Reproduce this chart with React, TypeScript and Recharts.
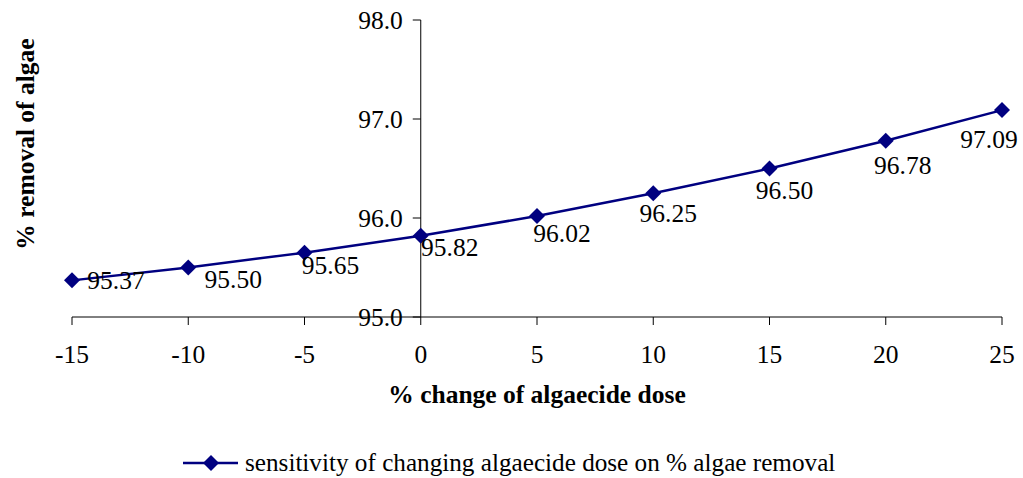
import React from 'react';
import {
  LineChart, Line, XAxis, YAxis, ReferenceLine, ReferenceDot, LabelList
} from 'recharts';

const DOSE_CHANGE = [-15, -10, -5, 0, 5, 10, 15, 20, 25];
const ALGAE_REMOVAL = [95.37, 95.5, 95.65, 95.82, 96.02, 96.25, 96.5, 96.78, 97.09];
const X_TICKS = [-15, -10, -5, 0, 5, 10, 15, 20, 25];
const Y_TICKS = [95, 96, 97, 98];

const SERIES_NAME = 'sensitivity of changing algaecide dose on % algae removal';

// label nudges (dx, dy) from each marker, as placed in the original
const LABEL_NUDGE = [
  [44, 0], [45, 12], [26, 12], [29, 11], [25, 17], [15, 20], [15, 22], [17, 24], [-13, 29],
];

const FONT = 'Liberation Serif, DejaVu Serif, serif';
const FS = 25.5;
const NAVY = '#000080';

const data = DOSE_CHANGE.map((d, i) => ({ dose: d, removal: ALGAE_REMOVAL[i] }));

const Diamond = (props: any) => {
  const { cx, cy } = props;
  if (cx == null || cy == null) return null;
  return <path d={`M${cx},${cy - 8} L${cx + 8},${cy} L${cx},${cy + 8} L${cx - 8},${cy} Z`} fill={NAVY} />;
};

const YTick = (props: any) => {
  const { cx, cy, label } = props;
  return (
    <g>
      <line x1={cx - 8} y1={cy} x2={cx} y2={cy} stroke="#000" strokeWidth={1} />
      <text x={cx - 18} y={cy} dy="0.35em" textAnchor="end" fontSize={FS} style={{ fontFamily: FONT }} fill="#000">
        {label}
      </text>
    </g>
  );
};

const PointLabel = (props: any) => {
  const { x, y, value, index } = props;
  const [dx, dy] = LABEL_NUDGE[index] || [20, 15];
  return (
    <text x={x + dx} y={y + dy} dy="0.35em" textAnchor="middle" fontSize={FS} style={{ fontFamily: FONT }} fill="#000">
      {Number(value).toFixed(2)}
    </text>
  );
};

export default function App() {
  return (
    <div style={{ position: 'absolute', left: 0, top: 0, width: 1023, height: 478, background: '#fff', fontFamily: FONT }}>
      <LineChart width={1023} height={478} data={data} margin={{ top: 20, right: 21, left: 0, bottom: 71 }} style={{ fontFamily: FONT }}>
        <XAxis
          dataKey="dose"
          type="number"
          domain={[-15, 25]}
          ticks={X_TICKS}
          interval={0}
          height={90}
          tickSize={8}
          tickMargin={20}
          axisLine={{ stroke: '#000', strokeWidth: 1 }}
          tickLine={{ stroke: '#000', strokeWidth: 1 }}
          tick={{ fontSize: FS, fill: '#000', style: { fontFamily: FONT } }}
          label={{
            value: '% change of algaecide dose',
            position: 'insideBottom',
            offset: 4,
            style: { fontSize: FS, fontWeight: 'bold', fontFamily: FONT, fill: '#000' },
          }}
        />
        <YAxis
          type="number"
          domain={[95, 98]}
          ticks={Y_TICKS}
          width={72}
          tick={false}
          axisLine={false}
          tickLine={false}
          label={({ viewBox }: any) => {
            const x = viewBox.x + 25;
            const y = viewBox.y + 124;
            return (
              <text
                x={x}
                y={y}
                transform={`rotate(-90, ${x}, ${y})`}
                textAnchor="middle"
                dy="0.35em"
                fontSize={FS}
                fontWeight="bold"
                style={{ fontFamily: FONT }}
                fill="#000"
              >
                % removal of algae
              </text>
            );
          }}
        />
        <ReferenceLine x={0} stroke="#000" strokeWidth={1} />
        {Y_TICKS.map((t) => (
          <ReferenceDot
            key={t}
            x={0}
            y={t}
            r={0}
            ifOverflow="visible"
            shape={(p: any) => <YTick {...p} label={t.toFixed(1)} />}
          />
        ))}
        <Line
          type="linear"
          dataKey="removal"
          name={SERIES_NAME}
          stroke={NAVY}
          strokeWidth={2.5}
          dot={<Diamond />}
          activeDot={false}
          isAnimationActive={false}
        >
          <LabelList dataKey="removal" content={<PointLabel />} />
        </Line>
      </LineChart>
      <div
        style={{
          position: 'absolute',
          left: 183,
          top: 448,
          height: 30,
          display: 'flex',
          alignItems: 'center',
          fontSize: 25.2,
          color: '#000',
          whiteSpace: 'nowrap',
        }}
      >
        <svg width={56} height={20} style={{ marginRight: 6 }}>
          <line x1={0} y1={10} x2={55} y2={10} stroke={NAVY} strokeWidth={2.5} />
          <path d="M28,2 L36,10 L28,18 L20,10 Z" fill={NAVY} />
        </svg>
        <span>{SERIES_NAME}</span>
      </div>
    </div>
  );
}
